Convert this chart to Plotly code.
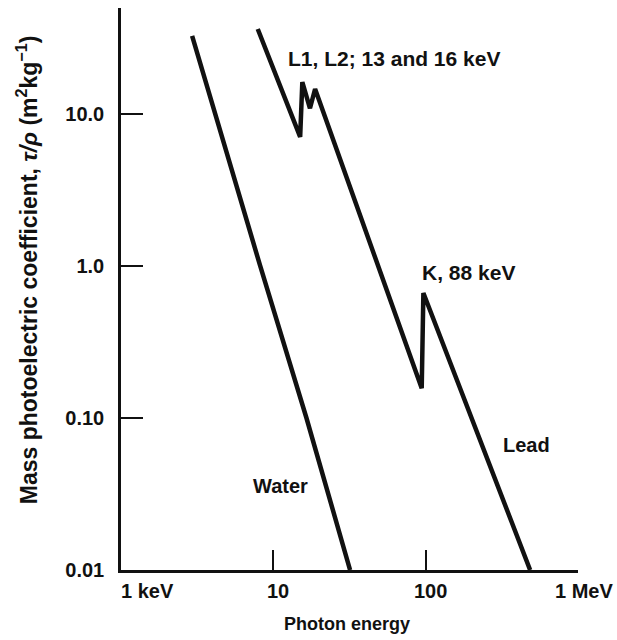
import math
import plotly.graph_objects as go

# ---- data ----
water_energy_keV = [2.93, 8.2, 16.5, 31.9]
water_tau_rho = [32.6, 1.0, 0.10, 0.01]

lead_energy_keV = [7.9, 15.0, 15.5, 17.4, 18.8, 94.2, 96.6, 485]
lead_tau_rho = [36.2, 7.06, 16.2, 10.9, 14.6, 0.157, 0.664, 0.01]

y_tick_vals = [0.01, 0.1, 1, 10]
y_tick_text = ["0.01", "0.10", "1.0", "10.0"]
x_tick_vals = [1, 10, 100, 1000]
x_tick_text = ["1 keV", "10", "100", "1 MeV"]

FONT = "Liberation Sans, Arial, sans-serif"
FS = 20
INK = "#111111"


def f(size=FS):
    return dict(family=FONT, size=size, color=INK, weight="bold")


fig = go.Figure()
fig.add_trace(go.Scatter(x=water_energy_keV, y=water_tau_rho, mode="lines",
                         line=dict(color=INK, width=4.5), name="Water"))
fig.add_trace(go.Scatter(x=lead_energy_keV, y=lead_tau_rho, mode="lines",
                         line=dict(color=INK, width=4.5), name="Lead"))

ann = []
# x tick labels
for v, t in zip(x_tick_vals, x_tick_text):
    if v == 1:
        xa, xs = "left", -2
    elif v == 1000:
        xa, xs = "center", 6
    else:
        xa, xs = "center", 5
    ann.append(dict(x=math.log10(v), y=-0.0374, xref="x", yref="paper",
                    text=t, showarrow=False, xanchor=xa, yanchor="middle",
                    xshift=xs, font=f()))


# curve labels
def lab(text, e, mu, xa="center", size=FS):
    ann.append(dict(x=math.log10(e), y=math.log10(mu), xref="x", yref="y",
                    text=text, showarrow=False, xanchor=xa, yanchor="middle",
                    font=f(size)))


lab("L1, L2; 13 and 16 keV", 12.1, 23.3, "left", 21)
lab("K, 88 keV", 91.8, 0.90, "left", 21)
lab("Lead", 456, 0.0664)
lab("Water", 11.07, 0.0357)

# axis titles
ann.append(dict(x=-0.205, y=0.534, xref="paper", yref="paper",
                text="Mass photoelectric coefficient, <i>τ/ρ</i> (m<sup>2</sup>kg<sup>−1</sup>)",
                showarrow=False, textangle=-90, xanchor="center", yanchor="middle",
                font=f(23)))
ann.append(dict(x=0.4945, y=-0.0961, xref="paper", yref="paper",
                text="Photon energy", showarrow=False, xanchor="center", yanchor="middle",
                font=f(18)))

fig.update_layout(
    width=617, height=640,
    margin=dict(l=121, r=39, t=8, b=70),
    paper_bgcolor="white", plot_bgcolor="white",
    showlegend=False,
    annotations=ann,
    xaxis=dict(type="log", range=[0, 3], showgrid=False, zeroline=False,
               showline=True, linecolor=INK, linewidth=2.5, mirror=False,
               tickvals=x_tick_vals[1:], ticks="inside", ticklen=20, tickwidth=1.5,
               tickcolor=INK, showticklabels=False),
    yaxis=dict(type="log", range=[-2, 1.697], showgrid=False, zeroline=False,
               showline=True, linecolor=INK, linewidth=2.5, mirror=False,
               tickvals=y_tick_vals, ticktext=y_tick_text, ticks="inside",
               ticklen=22, tickwidth=1.5, tickcolor=INK, ticklabelstandoff=10,
               tickfont=f()),
)

fig.write_html("out.html")
